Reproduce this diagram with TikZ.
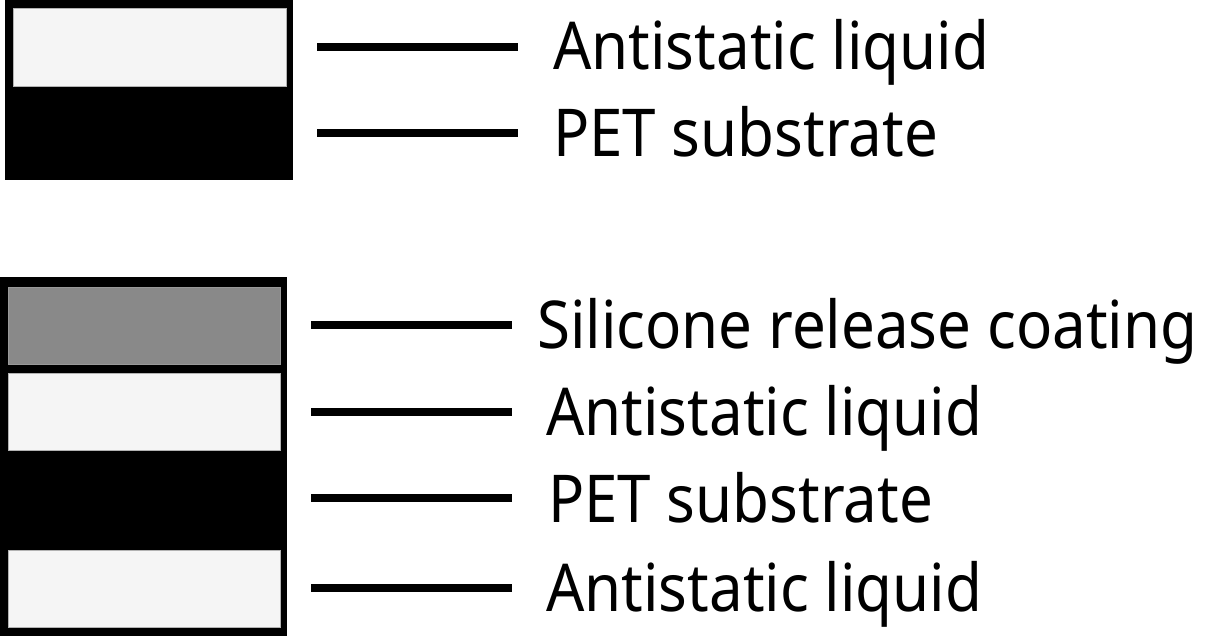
\documentclass[tikz,border=0pt]{standalone}
\usepackage{fontspec}
\setmainfont{Noto Sans}[FakeStretch=0.91]
\begin{document}
\begin{tikzpicture}[x=1pt,y=-1pt,
  lead/.style={line width=8.5pt},
  lab/.style={anchor=base west,inner sep=0pt,font=\fontsize{66}{70}\selectfont},
  lightc/.style={fill=lightfill,draw=gray!60,line width=0.8pt},
  grayc/.style={fill=grayfill,draw=gray!80,line width=0.8pt}]
\definecolor{lightfill}{HTML}{F5F5F5}
\definecolor{grayfill}{HTML}{898989}
\useasboundingbox (0,0) rectangle (1209,636);
\fill[white] (0,0) rectangle (1209,636);
% top stack
\fill[black] (5,0) rectangle (293,180);
\draw[lightc] (13,8) rectangle (286,86);
% bottom stack
\fill[black] (0,277) rectangle (287,636);
\draw[grayc] (8,287) rectangle (280,364);
\draw[lightc] (8,373) rectangle (280,450);
\draw[lightc] (8,550) rectangle (280,627);
% leaders
\coordinate (a1) at (317,47);  \coordinate (b1) at (518,47);
\coordinate (a2) at (317,133); \coordinate (b2) at (518,133);
\coordinate (a3) at (311,325); \coordinate (b3) at (512,325);
\coordinate (a4) at (311,412); \coordinate (b4) at (512,412);
\coordinate (a5) at (311,498); \coordinate (b5) at (512,498);
\coordinate (a6) at (311,588); \coordinate (b6) at (512,588);
\foreach \i in {1,...,6} \draw[lead] (a\i) -- (b\i);
% labels
\node[lab] (t1) at (553,70) {Antistatic liquid};
\node[lab] (t2) at (553,157) {PET substrate};
\node[lab] (t3) at (537,348) {Silicone release coating};
\node[lab] (t4) at (546,435) {Antistatic liquid};
\node[lab] (t5) at (548,522) {PET substrate};
\node[lab] (t6) at (546,611) {Antistatic liquid};
\end{tikzpicture}
\end{document}
